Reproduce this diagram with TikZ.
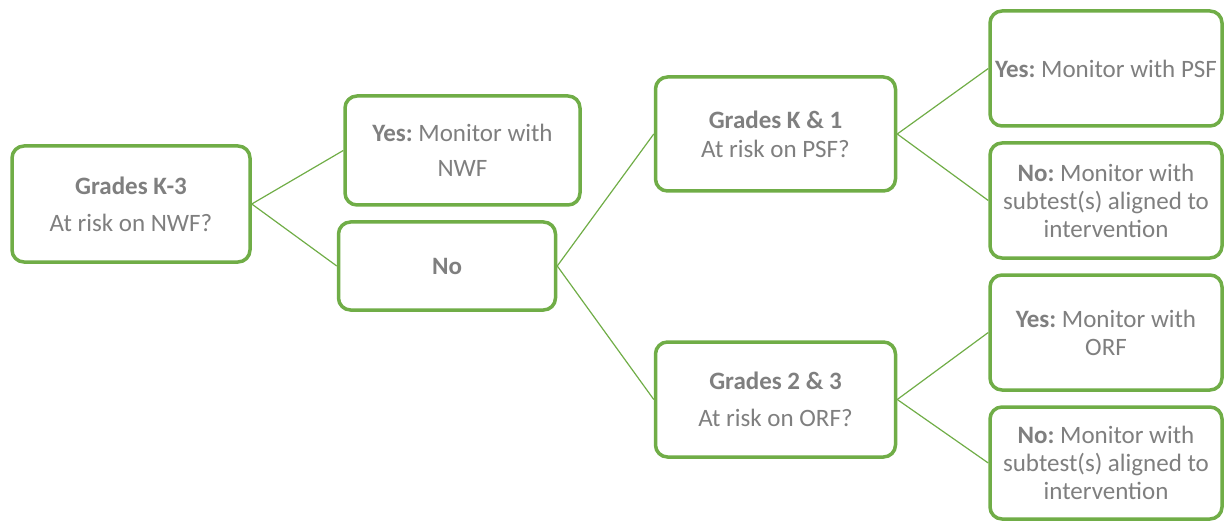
\documentclass[tikz,border=0pt]{standalone}
\usepackage{fontspec}
\setmainfont{Carlito}
\frenchspacing
\definecolor{boxgreen}{HTML}{70AD47}
\definecolor{txtgray}{HTML}{7F7F7F}
\begin{document}
\begin{tikzpicture}[x=1pt,y=-1pt,
  box/.style={draw=boxgreen, line width=3.5pt, rounded corners=12pt, fill=white,
    inner sep=0pt, align=center, text=txtgray,
    font=\fontsize{25}{28}\selectfont\frenchspacing},
  link/.style={draw=boxgreen, line width=1.2pt}]
\useasboundingbox (0,0) rectangle (1225,521);
% boxes
\node[box, minimum width=238pt, minimum height=116pt] (A) at (131,204)
  {\textbf{Grades K-3}\\[9pt]At risk on NWF?};
\node[box, minimum width=235pt, minimum height=109pt] (B) at (462.5,150.5)
  {\textbf{Yes:} Monitor with\\[7pt]NWF};
\node[box, minimum width=217pt, minimum height=88pt] (C) at (447,266)
  {\textbf{No}};
\node[box, minimum width=240pt, minimum height=114pt] (D) at (775.5,134)
  {\textbf{Grades K \& 1}\\[1pt]At risk on PSF?};
\node[box, minimum width=240pt, minimum height=115pt] (I) at (775.5,399.5)
  {\textbf{Grades 2 \& 3}\\[9pt]At risk on ORF?};
\node[box, minimum width=232pt, minimum height=115pt] (E) at (1106,68.5)
  {\textbf{Yes:} Monitor with PSF};
\node[box, minimum width=232pt, minimum height=115pt] (F) at (1106,200.5)
  {\textbf{No:} Monitor with\\subtest(s) aligned to\\intervention};
\node[box, minimum width=232pt, minimum height=115pt] (G) at (1106,332.5)
  {\textbf{Yes:} Monitor with\\ORF};
\node[box, minimum width=232pt, minimum height=112pt] (H) at (1106,463)
  {\textbf{No:} Monitor with\\subtest(s) aligned to\\intervention};
% connectors
\draw[link] (A.east) -- (B.west);
\draw[link] (A.east) -- (C.west);
\draw[link] (C.east) -- (D.west);
\draw[link] (C.east) -- (I.west);
\draw[link] (D.east) -- (E.west);
\draw[link] (D.east) -- (F.west);
\draw[link] (I.east) -- (G.west);
\draw[link] (I.east) -- (H.west);
\end{tikzpicture}
\end{document}
